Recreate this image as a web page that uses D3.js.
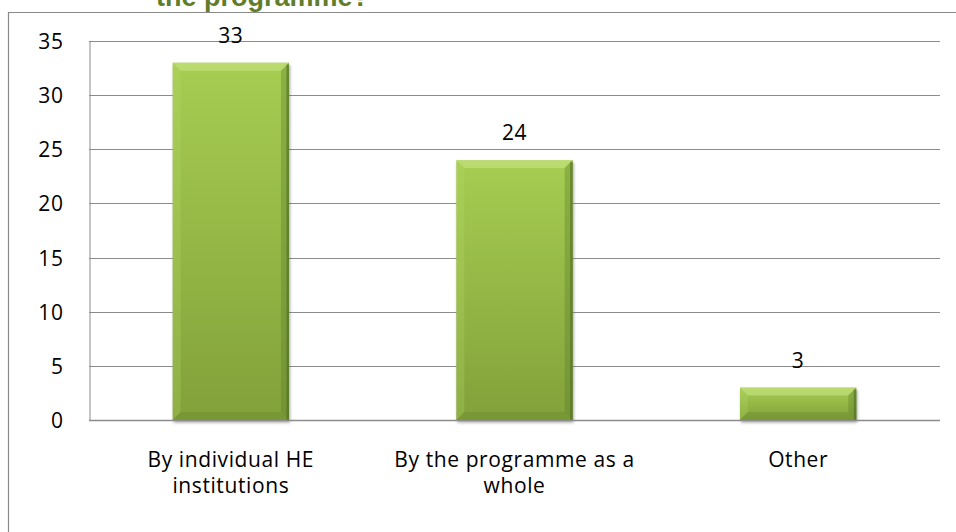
<!DOCTYPE html>
<html>
<head>
<meta charset="utf-8">
<script src="https://cdn.jsdelivr.net/npm/d3@7"></script>
<style>
  html, body { margin: 0; padding: 0; background: #fff; }
  svg { display: block; }
</style>
</head>
<body>
<div id="chart"></div>
<script>
// Values shown in the chart
const categories = [["By individual HE", "institutions"], ["By the programme as a", "whole"], ["Other"]];
const values = [33, 24, 3];
const yTicks = [0, 5, 10, 15, 20, 25, 30, 35];
const titleText = "the programme?";

const W = 956, H = 532;
const margin = { left: 89, right: 16, top: 41, bottom: 112 };
const labelFont = "Open Sans, sans-serif";
const labelSize = 21;
const labelSpacing = 0.6;

const svg = d3.select("#chart").append("svg").attr("width", W).attr("height", H);
const defs = svg.append("defs");

// Bar body gradient: light green at top, olive at the base
const grad = defs.append("linearGradient").attr("id", "barFill").attr("x1", 0).attr("y1", 0).attr("x2", 0).attr("y2", 1);
grad.append("stop").attr("offset", "0%").attr("stop-color", "#a7cd52");
grad.append("stop").attr("offset", "100%").attr("stop-color", "#82a13a");

const shadow = defs.append("filter").attr("id", "shadow").attr("x", "-10%").attr("y", "-10%").attr("width", "120%").attr("height", "130%");
shadow.append("feGaussianBlur").attr("stdDeviation", 1.8);

// Outer frame (runs past the page edge at top/right/bottom)
svg.append("path")
  .attr("d", `M8.5,${H + 2} V12.5 H${W + 2}`)
  .attr("fill", "none").attr("stroke", "#8a8a8a").attr("stroke-width", 1.2);

// Title, mostly above the top edge
svg.append("text")
  .attr("x", 156).attr("y", 6)
  .attr("font-family", "Liberation Sans, Arial, sans-serif")
  .attr("font-weight", "bold").attr("font-size", 27)
  .attr("fill", "#5f7d2c")
  .text(titleText);

const x = d3.scaleBand().domain(d3.range(values.length)).range([margin.left, W - margin.right]).paddingInner(0.59).paddingOuter(0.295);
const y = d3.scaleLinear().domain([0, 35]).range([H - margin.bottom, margin.top]);

// Horizontal gridlines
svg.append("g").selectAll("line").data(yTicks.filter(d => d > 0)).join("line")
  .attr("x1", margin.left).attr("x2", W - margin.right)
  .attr("y1", d => Math.round(y(d)) + 0.5).attr("y2", d => Math.round(y(d)) + 0.5)
  .attr("stroke", "#8c8c8c").attr("stroke-width", 1);

// Y axis
const yAxis = svg.append("g").attr("transform", `translate(${margin.left + 0.5},0)`)
  .call(d3.axisLeft(y).tickValues(yTicks).tickSize(0).tickPadding(26));
yAxis.select(".domain").attr("stroke", "#8c8c8c");
yAxis.selectAll("text").attr("font-family", labelFont).attr("font-size", labelSize)
  .attr("letter-spacing", labelSpacing).attr("fill", "#000").attr("dy", "0.36em");

// Bars with bevelled edges
const bev = 8;
const bars = svg.append("g").selectAll("g").data(values).join("g");
bars.append("rect")
  .attr("x", (d, i) => x(i) + 1).attr("y", d => y(d) + 2.5)
  .attr("width", x.bandwidth()).attr("height", d => y(0) - y(d))
  .attr("fill", "#555").attr("opacity", 0.55).attr("filter", "url(#shadow)");
bars.append("rect")
  .attr("x", (d, i) => x(i)).attr("y", d => y(d))
  .attr("width", x.bandwidth()).attr("height", d => y(0) - y(d))
  .attr("fill", "url(#barFill)");
function bevel(d, i, side) {
  const x0 = x(i), x1 = x(i) + x.bandwidth(), y0 = y(d), y1 = y(0);
  const b = Math.min(bev, (y1 - y0) / 2);
  if (side === "top") return `M${x0},${y0}H${x1}L${x1 - b},${y0 + b}H${x0 + b}Z`;
  if (side === "left") return `M${x0},${y0}L${x0 + b},${y0 + b}V${y1 - b}L${x0},${y1}Z`;
  if (side === "right") return `M${x1},${y0}L${x1 - b},${y0 + b}V${y1 - b}L${x1},${y1}Z`;
  return `M${x0},${y1}L${x0 + b},${y1 - b}H${x1 - b}L${x1},${y1}Z`;
}
bars.append("path").attr("d", (d, i) => bevel(d, i, "top")).attr("fill", "#c8e585").attr("opacity", 0.6);
bars.append("path").attr("d", (d, i) => bevel(d, i, "left")).attr("fill", "#b9da6c").attr("opacity", 0.25);
bars.append("path").attr("d", (d, i) => bevel(d, i, "right")).attr("fill", "#5a7a2a").attr("opacity", 0.35);
bars.append("path").attr("d", (d, i) => bevel(d, i, "bottom")).attr("fill", "#66852f").attr("opacity", 0.35);
// darker rim along the right edge
bars.append("rect")
  .attr("x", (d, i) => x(i) + x.bandwidth() - 2.5).attr("y", d => y(d) + 2)
  .attr("width", 2.5).attr("height", d => Math.max(0, y(0) - y(d) - 2))
  .attr("fill", "#4f6d22").attr("opacity", 0.6);

// X axis line
svg.append("line")
  .attr("x1", margin.left).attr("x2", W - margin.right)
  .attr("y1", Math.round(y(0)) + 0.5).attr("y2", Math.round(y(0)) + 0.5)
  .attr("stroke", "#8c8c8c").attr("stroke-width", 1.5);

// Value labels
svg.append("g").selectAll("text").data(values).join("text")
  .attr("x", (d, i) => x(i) + x.bandwidth() / 2).attr("y", d => y(d) - 20)
  .attr("text-anchor", "middle")
  .attr("font-family", labelFont).attr("font-size", labelSize)
  .attr("letter-spacing", labelSpacing).attr("fill", "#000")
  .text(d => d);

// Category labels
const cat = svg.append("g").selectAll("text").data(categories).join("text")
  .attr("x", (d, i) => x(i) + x.bandwidth() / 2).attr("y", 467)
  .attr("text-anchor", "middle")
  .attr("font-family", labelFont).attr("font-size", labelSize)
  .attr("letter-spacing", labelSpacing).attr("fill", "#000");
cat.selectAll("tspan").data((d, i) => d.map(t => ({ t, i }))).join("tspan")
  .attr("x", d => x(d.i) + x.bandwidth() / 2)
  .attr("dy", (d, j) => j === 0 ? 0 : 26)
  .text(d => d.t);
</script>
</body>
</html>
